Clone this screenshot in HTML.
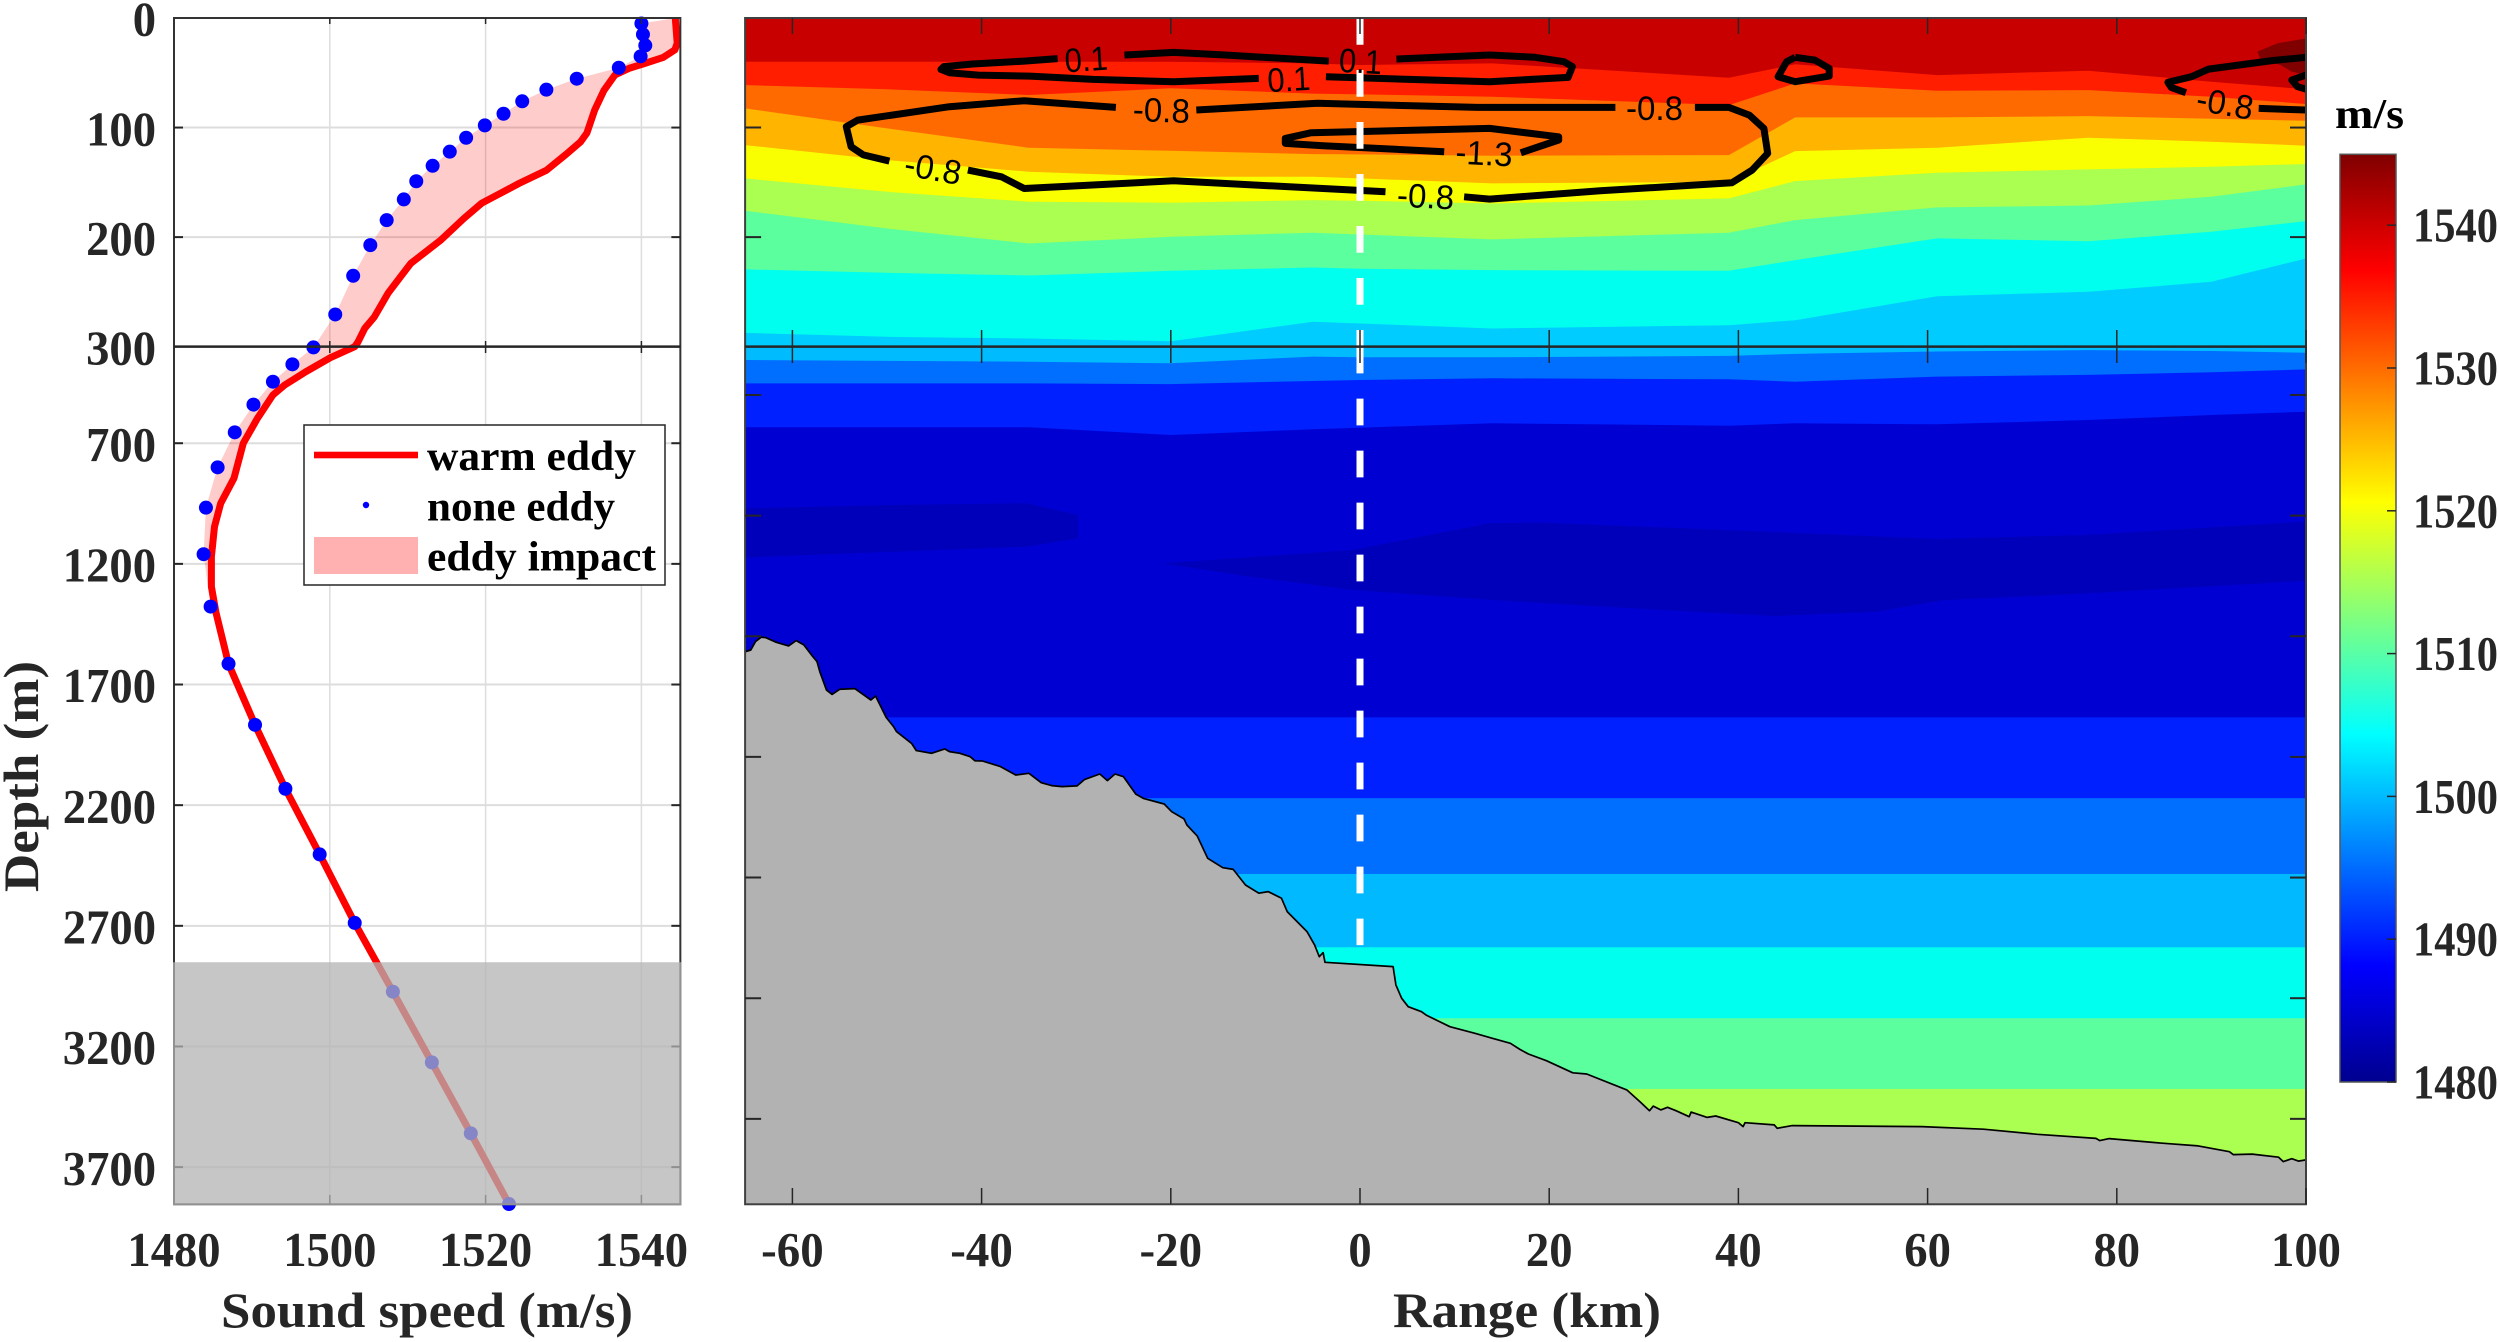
<!DOCTYPE html>
<html>
<head>
<meta charset="utf-8">
<title>Sound speed profile and section</title>
<style>
html,body{margin:0;padding:0;background:#fff;width:2500px;height:1342px;overflow:hidden}
svg{display:block}
.tick{font-family:"Liberation Serif",serif;font-weight:700;font-size:49px;fill:#262626}
.title{font-family:"Liberation Serif",serif;font-weight:700;font-size:50px;fill:#262626}
.leg{font-family:"Liberation Serif",serif;font-weight:700;font-size:42px;fill:#000}
.clab{font-family:"Liberation Sans",sans-serif;font-size:34px;fill:#000;text-anchor:middle}
</style>
</head>
<body>
<svg id="chart" xmlns="http://www.w3.org/2000/svg" width="2500" height="1342" viewBox="0 0 2500 1342">
  <defs>
    <clipPath id="sectionClip"><rect x="746" y="18" width="1560" height="1186.3"/></clipPath>
    <linearGradient id="jet" x1="0" y1="1" x2="0" y2="0">
      <stop offset="0" stop-color="#00008f"/>
      <stop offset="0.125" stop-color="#0000ff"/>
      <stop offset="0.375" stop-color="#00ffff"/>
      <stop offset="0.625" stop-color="#ffff00"/>
      <stop offset="0.875" stop-color="#ff0000"/>
      <stop offset="1" stop-color="#800000"/>
    </linearGradient>
  </defs>
  <rect x="0" y="0" width="2500" height="1342" fill="#fff"/>

  <g id="sectionBands" clip-path="url(#sectionClip)"></g>
  <g id="sectionContours" clip-path="url(#sectionClip)"></g>
  <g id="sectionLabels">
    <text class="clab" transform="translate(1087,71) rotate(-4)" textLength="43" lengthAdjust="spacingAndGlyphs">0.1</text>
    <text class="clab" transform="translate(1360,73) rotate(3)" textLength="43" lengthAdjust="spacingAndGlyphs">0.1</text>
    <text class="clab" transform="translate(1289.5,91) rotate(-3)" textLength="43" lengthAdjust="spacingAndGlyphs">0.1</text>
    <text class="clab" transform="translate(1161,122) rotate(2)" textLength="57" lengthAdjust="spacingAndGlyphs">-0.8</text>
    <text class="clab" transform="translate(1654.5,120)" textLength="57" lengthAdjust="spacingAndGlyphs">-0.8</text>
    <text class="clab" transform="translate(931,180) rotate(10)" textLength="57" lengthAdjust="spacingAndGlyphs">-0.8</text>
    <text class="clab" transform="translate(1425,208) rotate(3)" textLength="57" lengthAdjust="spacingAndGlyphs">-0.8</text>
    <text class="clab" transform="translate(1483.5,165) rotate(3)" textLength="57" lengthAdjust="spacingAndGlyphs">-1.3</text>
    <text class="clab" transform="translate(2223,115) rotate(10)" textLength="57" lengthAdjust="spacingAndGlyphs">-0.8</text>
  </g>
  <g id="sectionAxes"></g>

  <g id="profileGrid"></g>
  <g id="profileMarks"></g>
  <g id="profileAxes"></g>

  <g>
    <rect x="304" y="425" width="361" height="160" fill="#fff" stroke="#262626" stroke-width="1.5"/>
    <rect x="314" y="451.7" width="104" height="6.6" fill="#ff0000"/>
    <text class="leg" x="427" y="470" textLength="209" lengthAdjust="spacingAndGlyphs">warm eddy</text>
    <circle cx="366" cy="505" r="3.2" fill="#0000ff"/>
    <text class="leg" x="427" y="520.7" textLength="188" lengthAdjust="spacingAndGlyphs">none eddy</text>
    <rect x="314" y="537" width="104" height="37" fill="#ffb0b0"/>
    <text class="leg" x="427" y="570.7" textLength="229" lengthAdjust="spacingAndGlyphs">eddy impact</text>
  </g>

  <g id="profileOverlay"></g>
  <g id="tickLabels"></g>

  <text class="title" x="221" y="1327" textLength="412" lengthAdjust="spacingAndGlyphs">Sound speed (m/s)</text>
  <text class="title" x="1393" y="1327" textLength="268" lengthAdjust="spacingAndGlyphs">Range (km)</text>
  <text class="title" transform="translate(38,892) rotate(-90)" textLength="231" lengthAdjust="spacingAndGlyphs">Depth (m)</text>
  <text class="title" x="2335" y="128" style="font-size:42px;fill:#000" textLength="69" lengthAdjust="spacingAndGlyphs">m/s</text>

  <rect x="2340" y="154.3" width="56" height="927.7" fill="url(#jet)" stroke="#555" stroke-width="1.5"/>
  <g id="colorbarTicks"></g>
</svg>

<script>
/* ---- profile data (m/s vs m) ---- */
const warmDepth=[0,23,29,36,42,46,52,66,84,105,113,124,139,151,160,169,183,203,224,235,251,273,283,296,300,345,404,459,500,597,700,845,949,1046,1170,1294,1404,1614,1867,2132,2404,2688,2973,3266,3560,3853];
const warmSpeed=[1544.35,1544.6,1544.3,1542.8,1540.2,1538.4,1536.6,1535.2,1534,1533,1532.2,1530.4,1527.8,1524.3,1521.9,1519.5,1517.2,1514.2,1510.4,1509.2,1507.5,1505.7,1504.5,1503.6,1503.2,1500.1,1496.9,1494.2,1492.7,1490.7,1488.9,1487.7,1486,1485.2,1484.8,1484.8,1485.4,1487,1490.4,1494.3,1498.7,1503.2,1508.1,1513.1,1518.1,1523];
const noneDepth=[5,15,25,35,45.4,55.4,65.4,76,87.4,98,109.3,122,134.9,149,165.6,184.5,207.3,235.3,270.6,302.9,373,445,540,655,800,967,1160,1377,1614,1867,2132,2404,2688,2973,3266,3560,3853];
const noneSpeed=[1540,1540.2,1540.5,1539.9,1537.1,1531.7,1527.8,1524.7,1522.3,1519.9,1517.5,1515.4,1513.2,1511.1,1509.5,1507.3,1505.2,1503,1500.7,1497.9,1495.2,1492.7,1490.2,1487.8,1485.6,1484.1,1483.8,1484.7,1487,1490.4,1494.3,1498.7,1503.2,1508.1,1513.1,1518.1,1523];

/* ---- tick labels ---- */
const profileSpeedTicks=[1480,1500,1520,1540];
const depthLabelTicks=[0,100,200,300,700,1200,1700,2200,2700,3200,3700];
const rangeTicks=[-60,-40,-20,0,20,40,60,80,100];
const sectionDepthTicks=[100,200,500,1000,1500,2000,2500,3000,3500];
const colorbarValues=[1480,1490,1500,1510,1520,1530,1540];

/* ---- section band boundaries: depth (m) at each range knot (km) ---- */
const bandRange=[-65,-50,-35,-20,-5,0,14,39,46,61,77,90,100];
const isoRedTop=[39.9,39.9,39.9,39.9,41.4,42.9,41.4,54.5,42.3,52.1,48.1,58.1,65.1];
const isoOrangeTop=[61.2,65.1,70.3,64.2,69,69.7,71.8,79.5,59.7,66.4,65.8,71.8,78.5];
const isoAmberTop=[82.5,100.8,118.4,121.2,124.2,124.5,125.7,125.1,90.7,90.7,89.5,91.9,93.8];
const isoYellowTop=[116,129.7,140.3,144.9,144.9,146.4,151,149.5,121.5,118.4,109.3,112.9,116.6];
const isoLimeTop=[146.4,158.6,167.7,168.6,166.2,166.8,169.3,164.7,148.9,141.2,138.2,135.8,133.3];
const isoGreenTop=[175.9,192.1,205.8,199.7,196,197.6,202.1,196,184.5,172.9,171.1,163.2,151.9];
const isoCyanTop=[229.5,232.6,235,230.7,227.7,228.9,230.1,230.7,221,201.2,203.7,195.1,185.4];
const isoSkyTop=[287.4,291,292.5,295,277.3,278.8,283.4,280.4,275.8,253.9,249.9,240.8,219.5];
const isoBreak=[300,300,300,300,300,300,300,300,300,300,300,300,300];
const isoAzureTop=[355,359,362,369,341,344,344,338,330,320,314,318,325];
const isoBlueTop=[452,452,452,455,442,438,431,435,445,424,417,406,394];
const isoDeepTop=[634,634,634,666,642.4,635.5,617.6,627.2,617.6,621.7,603.7,583,569.2];
const bandIsos=[isoRedTop,isoOrangeTop,isoAmberTop,isoYellowTop,isoLimeTop,isoGreenTop,isoCyanTop,isoSkyTop,isoBreak,isoAzureTop,isoBlueTop,isoDeepTop];
const bandColors=['#ff1e00','#ff6a00','#ffb400','#f9ff00','#aaff50','#5cff9e','#00ffee','#00ccff','#00bcff','#006eff','#0020ff','#0000d2'];
const flatBandDepth=[1836,2171,2485,2789,3083,3376];
const flatBandColors=['#0020ff','#006eff','#00b9ff','#00ffee','#5cff9e','#aaff50'];

/* ---- patches of slower / faster water, [range km, depth m] ---- */
const hotPatch=[[100,18.6],[97,23.1],[94.85,30.7],[95.15,36.9],[97.3,42.9],[98.5,49],[100,52]];
const coldPatchLeft=[[-65,970],[-49.4,956],[-35.3,949],[-29.8,997.4],[-29.8,1094],[-35.3,1129],[-49.4,1149.4],[-65,1173]];
const coldPatchRight=[[-20.8,1198],[-0.8,1142.5],[13.7,1032],[19,1029],[38.9,1060],[61,1097],[77,1080],[100,1025],[100,1270],[77,1322],[61.7,1350],[54.7,1398],[43.9,1416],[32,1391],[16.9,1357],[-0.8,1308],[-11.6,1253]];

/* ---- anomaly contours, [range km, depth m] ---- */
const contour01a=[[-31.97,37.1],[-35.5,39.3],[-40.95,42],[-44,44.4],[-44.3,46.9],[-43.4,49.9],[-40.35,52.1],[-34.9,53],[-28.2,56],[-19.7,58.1],[-10.7,55.1]];
const contour01b=[[-24.9,33.8],[-19.7,31.4],[-14.25,33.8],[-3.3,39.3]];
const contour01c=[[3.85,37.4],[13.7,33.8],[18.5,35.9],[21.55,39.9],[22.45,44.4],[22,54.2],[13.7,58.1],[5.2,56],[-3.6,53.6]];
const contour08a=[[-49.75,130.6],[-52.5,125],[-53.8,117.5],[-54.3,99.2],[-53.1,93.2],[-43.4,81],[-35.5,75.5],[-25.8,81.6]];
const contour08b=[[-17.3,84],[-4.5,77.9],[12.45,81.6],[27,81.6]];
const contour08c=[[35.4,81.6],[39,81.6],[41.15,88.6],[42.7,100.8],[43.1,123.6],[41.45,138.8],[39.3,150.4],[25.4,157.7],[13.7,165.3],[11,163.2]];
const contour08d=[[-41.45,138.8],[-37.9,144.9],[-35.5,155.6],[-19.7,148.6],[2.7,158.6]];
const contour13=[[8.9,122],[-3.9,116.6],[-7.9,114.5],[-7.9,109.9],[-5.15,104.7],[13.7,100.8],[21,108.4],[21,111.4],[17,123]];
const contourLoop46=[[46,35.9],[48.1,38.4],[49.6,46],[49.6,53],[46,58.1],[44.2,53.6],[45.1,39.9],[46,35.9]];
const contourRightA=[[100,35.9],[96.4,38.9],[89.7,46.6],[87.9,53.6],[85.4,58.7],[85.75,63.3],[87.3,68.2]];
const contourRightB=[[95,82.5],[100,84]];
const contourRightC=[[100,52],[98.5,56.6],[99.1,62.7],[100,65]];
const contourSegments=[contour01a,contour01b,contour01c,contour08a,contour08b,contour08c,contour08d,contour13,contourLoop46,contourRightA,contourRightB,contourRightC];

/* ---- seabed, [range km, depth m] ---- */
const seabed=[[-65,1564],[-64.4,1557],[-63.9,1522],[-63.3,1504],[-62.8,1506],[-61.7,1525],[-60.4,1540],[-59.6,1518],[-58.8,1536],[-57.9,1582],[-57.4,1605],[-57.1,1647],[-56.4,1723],[-55.8,1741],[-55,1720],[-53.4,1717],[-51.7,1764],[-51.2,1748],[-50.1,1836],[-49.3,1875],[-49,1895],[-47.4,1944],[-46.9,1974],[-45.3,1985],[-43.9,1967],[-43.4,1978],[-42.3,1985],[-41.2,1999],[-40.7,2016],[-39.9,2017],[-38,2040],[-36.4,2075],[-35,2068],[-33.7,2107],[-32.6,2119],[-31.5,2123],[-29.9,2120],[-29.1,2093],[-27.5,2071],[-26.7,2098],[-25.9,2071],[-25,2082],[-23.7,2154],[-22.9,2172],[-20.7,2195],[-19.9,2227],[-18.6,2257],[-18.3,2282],[-17.2,2328],[-16.1,2420],[-14.5,2459],[-13.4,2466],[-12.1,2531],[-10.7,2565],[-9.7,2558],[-8.3,2586],[-7.7,2641],[-5.6,2724],[-4.8,2779],[-4.3,2828],[-3.9,2811],[-3.7,2851],[3.5,2869],[3.8,2945],[4.4,3000],[5.1,3035],[6.5,3056],[7,3070],[8.4,3097],[9.5,3118],[12.2,3146],[14,3166],[15.9,3187],[16.9,3212],[17.8,3231],[19.7,3259],[22.5,3309],[23.96,3314],[28.2,3380],[29.6,3429],[30.6,3466],[31,3447],[31.8,3463],[32.5,3452],[33.4,3466],[34.8,3491],[35,3472],[36.7,3494],[37.6,3488],[40,3516],[40.5,3532],[40.7,3516],[43.8,3525],[44.1,3539],[45.7,3528],[52.7,3530],[59.4,3532],[65.9,3543],[71.6,3564],[77.8,3581],[78.2,3590],[79.2,3582],[84.8,3601],[88.6,3612],[91.9,3636],[92.3,3648],[94.3,3646],[97.1,3659],[97.6,3677],[98.5,3665],[99.2,3675],[100,3670]];
const seabedOverlayDepth=2851;
const eddyCenterRange=0;
const eddyLineEndDepth=2780;

/* ---- axis functions ---- */
const NS='http://www.w3.org/2000/svg';
const depthMax=3854, rangeMin=-65, rangeMax=100, speedMin=1480, speedMax=1545, barMin=1480;
function yScale(d){return d<=300 ? 18+1.0956*d : 346.7+(d-300)*0.2413;}
function speedX(c){return 174+(c-speedMin)*7.79;}
function rangeX(r){return 1360+r*9.46;}
function barY(v){return 1082-(v-barMin)*14.28;}
function labelWidth(s){return s.replace('-','').length*23.3+(s.indexOf('-')>=0?16:0);}
function mk(parent,tag,attrs){
  const n=document.createElementNS(NS,tag);
  for(const k in attrs){n.setAttribute(k,attrs[k]);}
  document.getElementById(parent).appendChild(n);
  return n;
}
function sectionPts(arr){return arr.map(p=>rangeX(p[0]).toFixed(1)+','+yScale(p[1]).toFixed(1));}

/* ---- section bands ---- */
{
  const base=mk('sectionBands','rect',{x:rangeX(rangeMin),y:18,width:rangeX(rangeMax)-rangeX(rangeMin),height:yScale(depthMax)-18,fill:'#c80000'});
  
  
  const hot=mk('sectionBands','polygon',{points:sectionPts(hotPatch).join(' '),fill:'#800000'});
  
  
  bandIsos.forEach(function(iso,i){
    const top=bandRange.map((r,j)=>rangeX(r).toFixed(1)+','+yScale(iso[j]).toFixed(1));
    const pts=top.concat([rangeX(rangeMax)+','+yScale(depthMax),rangeX(rangeMin)+','+yScale(depthMax)]);
    const el=mk('sectionBands','polygon',{points:pts.join(' '),fill:bandColors[i]});
    
    
  });
  [coldPatchLeft,coldPatchRight].forEach(function(p){
    const el=mk('sectionBands','polygon',{points:sectionPts(p).join(' '),fill:'#0000ba'});
    
    
  });
  flatBandDepth.forEach(function(d,i){
    const el=mk('sectionBands','rect',{x:rangeX(rangeMin),y:yScale(d),width:rangeX(rangeMax)-rangeX(rangeMin),height:yScale(depthMax)-yScale(d),fill:flatBandColors[i]});
    
    
  });
  const pts=sectionPts(seabed);
  const bed=mk('sectionBands','polygon',{points:pts.concat([rangeX(rangeMax)+','+yScale(depthMax),rangeX(rangeMin)+','+yScale(depthMax)]).join(' '),fill:'#b2b2b2'});
  
  
  const bedLine=mk('sectionBands','polyline',{points:pts.join(' '),fill:'none',stroke:'#000','stroke-width':1.7,'stroke-linejoin':'round'});
  
  
}

/* ---- contours ---- */
contourSegments.forEach(function(seg){
  const el=mk('sectionContours','polyline',{points:sectionPts(seg).join(' '),fill:'none',stroke:'#000','stroke-width':7,'stroke-linejoin':'round','stroke-linecap':'butt'});
  
  
});

/* ---- eddy center dashed line + section axes ---- */
{
  const up=mk('sectionContours','line',{x1:rangeX(eddyCenterRange),x2:rangeX(eddyCenterRange),y1:yScale(0),y2:yScale(300),stroke:'#fff','stroke-width':7,'stroke-dasharray':'26.7 25.3'});
  
  
  const low=mk('sectionContours','line',{x1:rangeX(eddyCenterRange),x2:rangeX(eddyCenterRange),y1:yScale(300),y2:yScale(eddyLineEndDepth),stroke:'#fff','stroke-width':7,'stroke-dasharray':'26.7 25.3'});
  
  

  const box=mk('sectionAxes','rect',{x:rangeX(rangeMin),y:18,width:rangeX(rangeMax)-rangeX(rangeMin),height:yScale(depthMax)-18,fill:'none',stroke:'#404040','stroke-width':2});
  
  
  const brk=mk('sectionAxes','line',{x1:rangeX(rangeMin),x2:rangeX(rangeMax),y1:yScale(300),y2:yScale(300),stroke:'#262626','stroke-width':2.5});
  
  
  rangeTicks.forEach(function(r){
    const x=rangeX(r);
    [[18,34],[330,363],[1188,1204]].forEach(function(sp){
      const t=mk('sectionAxes','line',{x1:x,x2:x,y1:sp[0],y2:sp[1],stroke:'#262626','stroke-width':1.5});
      
      
    });
    const lab=mk('tickLabels','text',{x:x,y:1266,'text-anchor':'middle',class:'tick',textLength:labelWidth(String(r)),lengthAdjust:'spacingAndGlyphs'});
    lab.textContent=String(r);
    
    
  });
  sectionDepthTicks.forEach(function(d){
    const y=yScale(d);
    [[rangeX(rangeMin),rangeX(rangeMin)+16],[rangeX(rangeMax)-16,rangeX(rangeMax)]].forEach(function(sp){
      const t=mk('sectionAxes','line',{x1:sp[0],x2:sp[1],y1:y,y2:y,stroke:'#262626','stroke-width':2});
      
      
    });
  });
}

/* ---- profile panel ---- */
{
  const left=speedX(speedMin), right=speedX(speedMax), bot=yScale(depthMax);
  profileSpeedTicks.slice(1).forEach(function(c){
    const g=mk('profileGrid','line',{x1:speedX(c),x2:speedX(c),y1:18,y2:bot,stroke:'#dddddd','stroke-width':1.5});
    
    
  });
  depthLabelTicks.slice(1).forEach(function(d){
    const g=mk('profileGrid','line',{x1:left,x2:right,y1:yScale(d),y2:yScale(d),stroke:'#dddddd','stroke-width':2});
    
    
  });

  const warmPts=warmSpeed.map((c,i)=>speedX(c).toFixed(1)+','+yScale(warmDepth[i]).toFixed(1));
  const nonePts=noneSpeed.map((c,i)=>speedX(c).toFixed(1)+','+yScale(noneDepth[i]).toFixed(1));
  const fill=mk('profileMarks','polygon',{points:warmPts.concat(nonePts.slice().reverse()).join(' '),fill:'#ff0000','fill-opacity':0.2});
  
  
  const warm=mk('profileMarks','polyline',{points:warmPts.join(' '),fill:'none',stroke:'#ff0000','stroke-width':7,'stroke-linejoin':'round'});
  
  
  noneSpeed.forEach(function(c,i){
    const p=mk('profileMarks','circle',{cx:speedX(c),cy:yScale(noneDepth[i]),r:7,fill:'#0000ff'});
    
    
  });

  const box=mk('profileAxes','rect',{x:left,y:18,width:right-left,height:bot-18,fill:'none',stroke:'#333','stroke-width':2});
  
  
  const brk=mk('profileAxes','line',{x1:left,x2:right,y1:yScale(300),y2:yScale(300),stroke:'#262626','stroke-width':2.5});
  
  
  profileSpeedTicks.forEach(function(c){
    const x=speedX(c);
    if(c>speedMin){
      [[18,24],[341,353],[1195,bot]].forEach(function(sp){
        const t=mk('profileAxes','line',{x1:x,x2:x,y1:sp[0],y2:sp[1],stroke:'#262626','stroke-width':1.5});
        
        
      });
    }
    const lab=mk('tickLabels','text',{x:x,y:1266,'text-anchor':'middle',class:'tick',textLength:labelWidth(String(c)),lengthAdjust:'spacingAndGlyphs'});
    lab.textContent=String(c);
    
    
  });
  depthLabelTicks.forEach(function(d){
    const y=yScale(d);
    if(d>0 && d!==300){
      [[left,left+9],[right-9,right]].forEach(function(sp){
        const t=mk('profileAxes','line',{x1:sp[0],x2:sp[1],y1:y,y2:y,stroke:'#262626','stroke-width':2});
        
        
      });
    }
    const lab=mk('tickLabels','text',{x:156,y:y+17.7,'text-anchor':'end',class:'tick',textLength:labelWidth(String(d)),lengthAdjust:'spacingAndGlyphs'});
    lab.textContent=String(d);
    
    
  });

  const ov=mk('profileOverlay','rect',{x:left-1,y:yScale(seabedOverlayDepth),width:right-left+2,height:bot-yScale(seabedOverlayDepth)+1,fill:'#b3b3b3','fill-opacity':0.75});
  
  
}

/* ---- colorbar ---- */
colorbarValues.forEach(function(v){
  const y=barY(v);
  const t=mk('colorbarTicks','line',{x1:2387,x2:2396,y1:y,y2:y,stroke:'#262626','stroke-width':1.5});
  
  
  const lab=mk('tickLabels','text',{x:2413,y:y+16.5,class:'tick',textLength:85,lengthAdjust:'spacingAndGlyphs'});
  lab.textContent=String(v);
  
  
});
</script>
</body>
</html>
